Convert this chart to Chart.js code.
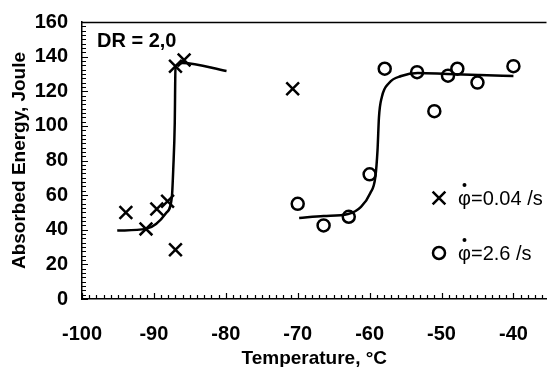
<!DOCTYPE html>
<html>
<head>
<meta charset="utf-8">
<script src="https://cdn.jsdelivr.net/npm/chart.js@4/dist/chart.umd.min.js"></script>
<style>
  html, body { margin: 0; padding: 0; background: #fff; overflow: hidden; }
  #wrap { width: 558px; height: 367px; position: relative; }
</style>
</head>
<body>
<div id="wrap"><canvas id="chart"></canvas></div>
<script>
// measured points, phi = 0.04 /s (crosses)
const slowTemp = [-93.9, -91.1, -89.6, -88.1, -87.0, -87.0, -85.8, -70.7];
const slowEnergy = [50, 40.5, 52, 56.5, 28.5, 134.5, 138, 121.5];

// measured points, phi = 2.6 /s (circles)
const fastTemp = [-70.0, -66.4, -62.9, -60.0, -57.9, -53.4, -51.0, -49.1, -47.8, -45.0, -40.0];
const fastEnergy = [55, 42.5, 47.5, 72, 133, 131, 108.5, 129, 133, 125, 134.5];

// fitted curves
const slowFitTemp = [-95.1, -91.1, -89.7, -88.3, -87.5, -87.3, -87.1, -87.0, -86.0, -79.9];
const slowFitEnergy = [39.5, 40.5, 43.3, 49.7, 59, 76, 101.7, 134, 136.3, 131.7];
const fastFitTemp = [-69.8, -66.4, -63.0, -61.2, -59.9, -59.2, -58.9, -58.7, -58.3, -57.3, -55.6, -53.3, -49.2, -44.7, -40.0];
const fastFitEnergy = [46.8, 47.9, 49.1, 53.2, 61.2, 70.5, 86, 105, 116.7, 124.8, 128.8, 130.6, 130, 129.4, 128.8];

const seriesLabels = ["=0.04 /s", "=2.6 /s"];
const xTicks = [-100, -90, -80, -70, -60, -50, -40];
const yTicks = [0, 20, 40, 60, 80, 100, 120, 140, 160];

const pts = (xs, ys) => xs.map((x, i) => ({ x: x, y: ys[i] }));

// inward minor ticks, top frame line, legend and DR label
const decorations = {
  id: "decorations",
  afterDraw(chart) {
    const c = chart.ctx;
    const a = chart.chartArea;
    const xs = chart.scales.x;
    const ys = chart.scales.y;
    c.save();
    c.strokeStyle = "#000";
    c.lineWidth = 1.2;
    c.beginPath();
    for (let t = -100; t <= -36; t += 1) {
      const px = Math.round(xs.getPixelForValue(t)) + 0.5;
      c.moveTo(px, a.bottom);
      c.lineTo(px, a.bottom - (t % 10 === 0 ? 6 : 4));
    }
    for (let v = 0; v <= 160; v += 2.5) {
      const py = Math.round(ys.getPixelForValue(v)) + 0.5;
      c.moveTo(a.left, py);
      c.lineTo(a.left + (v % 20 === 0 ? 6 : 4), py);
    }
    c.stroke();
    c.lineWidth = 1.5;
    c.beginPath();
    c.moveTo(a.left, a.top + 0.5);
    c.lineTo(a.right, a.top + 0.5);
    c.stroke();

    c.fillStyle = "#000";
    c.font = "bold 20px 'Liberation Sans', Arial, sans-serif";
    c.textBaseline = "alphabetic";
    c.fillText("DR = 2,0", a.left + 15, a.top + 25);

    c.font = "20px 'Liberation Sans', Arial, sans-serif";
    const legendRows = [
      { style: "crossRot", r: 9, y: 198, label: seriesLabels[0] },
      { style: "circle", r: 6, y: 253, label: seriesLabels[1] }
    ];
    legendRows.forEach((row) => {
      c.lineWidth = 2.5;
      c.strokeStyle = "#000";
      c.fillStyle = "#fff";
      Chart.helpers.drawPoint(c, { pointStyle: row.style, radius: row.r, borderWidth: 2.5 }, 439, row.y);
      c.fillStyle = "#000";
      const phiW = c.measureText("\u03C6").width;
      c.fillText("\u03C6", 458, row.y + 7);
      c.beginPath();
      c.arc(458 + phiW / 2, row.y - 13, 2, 0, Math.PI * 2);
      c.fill();
      c.fillText(row.label, 458 + phiW, row.y + 7);
    });
    c.restore();
  }
};

const ctx = document.getElementById("chart").getContext("2d");
const chart = new Chart(ctx, {
  type: "scatter",
  data: {
    datasets: [
      {
        label: "fit 0.04",
        data: pts(slowFitTemp, slowFitEnergy),
        showLine: true,
        borderColor: "#000",
        borderWidth: 2.5,
        pointRadius: 0,
        cubicInterpolationMode: "monotone"
      },
      {
        label: "fit 2.6",
        data: pts(fastFitTemp, fastFitEnergy),
        showLine: true,
        borderColor: "#000",
        borderWidth: 2.5,
        pointRadius: 0,
        cubicInterpolationMode: "monotone"
      },
      {
        label: "0.04 /s",
        data: pts(slowTemp, slowEnergy),
        pointStyle: "crossRot",
        pointRadius: 9,
        borderColor: "#000",
        borderWidth: 2.5
      },
      {
        label: "2.6 /s",
        data: pts(fastTemp, fastEnergy),
        pointStyle: "circle",
        pointRadius: 6,
        borderColor: "#000",
        backgroundColor: "#fff",
        borderWidth: 2.5
      }
    ]
  },
  options: {
    responsive: true,
    maintainAspectRatio: false,
    animation: false,
    layout: { padding: { top: 22, right: 0, left: 0, bottom: 0 } },
    plugins: {
      legend: { display: false },
      tooltip: { enabled: false }
    },
    scales: {
      x: {
        type: "linear",
        min: -100,
        max: -35.4,
        afterFit: (s) => { s.height = 68; },
        afterBuildTicks: (s) => { s.ticks = xTicks.map((v) => ({ value: v })); },
        grid: { display: false },
        border: { display: true, color: "#000", width: 1.5 },
        ticks: {
          color: "#000",
          padding: 15,
          font: { family: "'Liberation Sans', Arial, sans-serif", size: 20, weight: "bold" }
        },
        title: {
          display: true,
          text: "Temperature, \u00B0C",
          color: "#000",
          padding: { top: 0, bottom: -1 },
          font: { family: "'Liberation Sans', Arial, sans-serif", size: 19, weight: "bold", lineHeight: 1 }
        }
      },
      y: {
        min: 0,
        max: 160,
        afterFit: (s) => { s.width = 82; },
        afterBuildTicks: (s) => { s.ticks = yTicks.map((v) => ({ value: v })); },
        grid: { display: false },
        border: { display: true, color: "#000", width: 1.5 },
        ticks: {
          color: "#000",
          padding: 6,
          font: { family: "'Liberation Sans', Arial, sans-serif", size: 20, weight: "bold" }
        },
        title: {
          display: true,
          text: "Absorbed Energy, Joule",
          color: "#000",
          padding: { top: 8, bottom: 0 },
          font: { family: "'Liberation Sans', Arial, sans-serif", size: 19, weight: "bold", lineHeight: 1.2 }
        }
      }
    }
  },
  plugins: [decorations]
});
</script>
</body>
</html>
